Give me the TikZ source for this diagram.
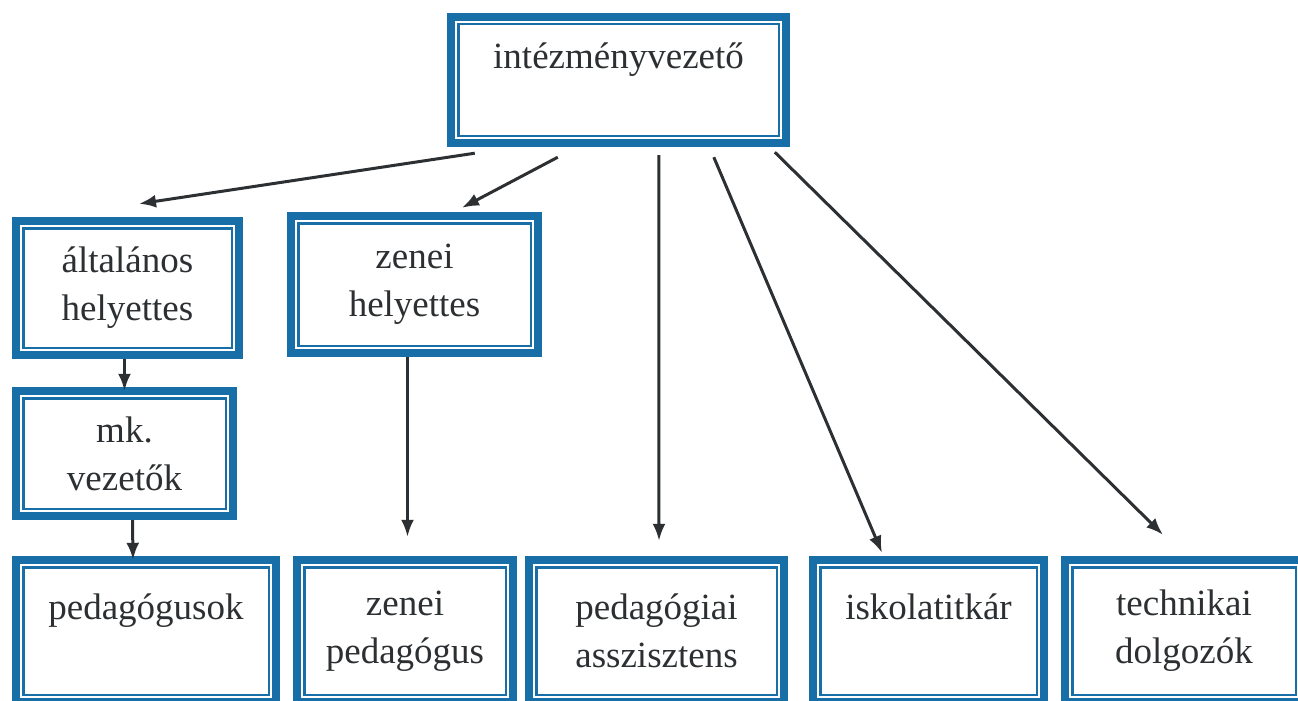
\documentclass[tikz,border=0pt]{standalone}
\usepackage{fontspec}
\setmainfont{Liberation Serif}
\usetikzlibrary{arrows.meta}
\definecolor{orgblue}{RGB}{24,110,166}
\definecolor{inkgray}{RGB}{45,48,50}

\begin{document}
\begin{tikzpicture}
[x=1pt, y=-1pt,
box/.style={fill=orgblue, inner sep=0pt, align=center, text=inkgray,
  font=\fontsize{37}{48}\selectfont,
  path picture={
    \fill[white] ([shift={(8pt,-8pt)}]path picture bounding box.north west) rectangle ([shift={(-8pt,8pt)}]path picture bounding box.south east);
    \draw[orgblue, line width=2.5pt] ([shift={(11.25pt,-11.25pt)}]path picture bounding box.north west) rectangle ([shift={(-11.25pt,11.25pt)}]path picture bounding box.south east);
  }},
link/.style={inkgray, line width=3pt, -{Latex[length=17pt,width=13pt]}}]
\useasboundingbox (0,0) rectangle (1298,701);
\node[box, minimum width=343, minimum height=134] (vezeto) at (618.5,80) {intézményvezető\\ \mbox{}};
\node[box, minimum width=231, minimum height=142] (altalanos) at (127.5,288) {általános\\helyettes};
\node[box, minimum width=255, minimum height=145] (zeneih) at (414.5,284.5) {zenei\\helyettes};
\node[box, minimum width=225, minimum height=133] (mk) at (124.5,453.5) {mk.\\vezetők};
\node[box, minimum width=268, minimum height=150] (pedagogusok) at (146,631) {pedagógusok\\ \mbox{}};
\node[box, minimum width=224, minimum height=150] (zeneiped) at (405,631) {zenei\\pedagógus};
\node[box, minimum width=263, minimum height=150] (asszisztens) at (656.5,631) {pedagógiai\\asszisztens};
\node[box, minimum width=239, minimum height=150] (titkar) at (928.5,631) {iskolatitkár\\ \mbox{}};
\node[box, minimum width=246, minimum height=150] (technikai) at (1184,631) {technikai\\dolgozók};
\draw[link] ([xshift=28,yshift=-6]vezeto.south west) -- ([xshift=11.5,yshift=13]altalanos.north);
\draw[link] ([xshift=111,yshift=-10]vezeto.south west) -- ([xshift=47.5,yshift=4]zeneih.north);
\draw[link] ([xshift=212,yshift=-8]vezeto.south west) -- ([xshift=2.5,yshift=15]asszisztens.north);
\draw[link] ([xshift=267,yshift=-10]vezeto.south west) -- ([xshift=-46.5,yshift=3]titkar.north);
\draw[link] ([xshift=328,yshift=-5]vezeto.south west) -- ([xshift=-21,yshift=21]technikai.north);
\draw[link] ([xshift=-3]altalanos.south) -- ([xshift=-3,yshift=-4]altalanos.south |- mk.north);
\draw[link] ([xshift=8]mk.south) -- ([xshift=-13,yshift=-4]pedagogusok.north);
\draw[link] ([xshift=-7]zeneih.south) -- ([xshift=2.5,yshift=19]zeneiped.north);
\end{tikzpicture}
\end{document}
